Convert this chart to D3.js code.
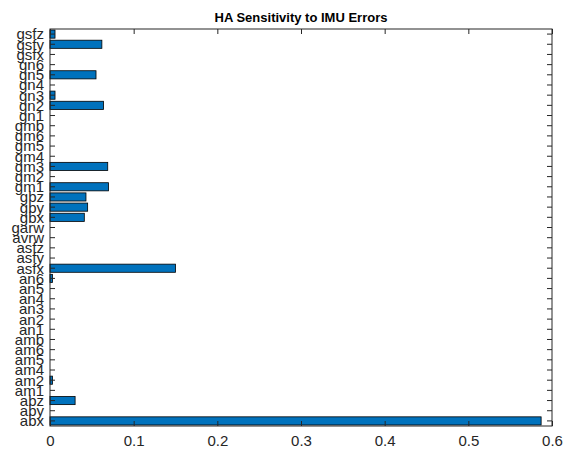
<!DOCTYPE html>
<html><head><meta charset="utf-8">
<script src="https://cdn.jsdelivr.net/npm/d3@7"></script>
<style>body{margin:0;background:#fff;}svg{display:block;font-family:"Liberation Sans",Arial,sans-serif;}</style>
</head><body><svg id="c" width="569" height="451"></svg>
<script>
const categories = ["abx","aby","abz","am1","am2","am4","am5","am6","amb","an1","an2","an3","an4","an5","an6","asfx","asfy","asfz","avrw","garw","gbx","gby","gbz","gm1","gm2","gm3","gm4","gm5","gm6","gmb","gn1","gn2","gn3","gn4","gn5","gn6","gsfx","gsfy","gsfz"];
const values = [0.587,0,0.030,0,0.003,0,0,0,0,0,0,0,0,0,0.003,0.150,0,0,0,0,0.041,0.045,0.043,0.070,0,0.069,0,0,0,0,0,0.064,0.006,0,0.055,0,0,0.062,0.006];
const xTicks = [0,0.1,0.2,0.3,0.4,0.5,0.6];
const title = "HA Sensitivity to IMU Errors";

const svg = d3.select("#c");
const L=50,R=552,T=29,B=426;
const x = d3.scaleLinear().domain([0,0.6]).range([L,R]);
const y = d3.scaleBand().domain(categories).range([B,T]).paddingInner(0.2).paddingOuter(0.1);
const axCol="#262626";

svg.append("g").selectAll("rect").data(categories).join("rect")
  .attr("x",x(0)).attr("y",d=>y(d))
  .attr("width",(d,i)=>x(values[i])-x(0)).attr("height",y.bandwidth())
  .attr("fill","#0072BD").attr("stroke","#000").attr("stroke-width",0.8)
  .attr("display",(d,i)=>values[i]>0?null:"none");

const tl=5;
function styleAxis(g){g.select(".domain").remove();g.selectAll("line").attr("stroke",axCol);g.selectAll("text").attr("fill",axCol).attr("font-size",15);}
svg.append("g").attr("transform",`translate(0,${B})`).call(d3.axisBottom(x).tickValues(xTicks).tickFormat(d3.format("~g")).tickSizeInner(-tl).tickSizeOuter(0).tickPadding(9)).call(styleAxis);
svg.append("g").attr("transform",`translate(0,${T})`).call(d3.axisTop(x).tickValues(xTicks).tickFormat("").tickSizeInner(-tl).tickSizeOuter(0)).call(styleAxis);
svg.append("g").attr("transform",`translate(${L},0)`).call(d3.axisLeft(y).tickSizeInner(-tl).tickSizeOuter(0).tickPadding(6)).call(styleAxis)
  .selectAll("text").attr("dy","0.36em");
svg.append("g").attr("transform",`translate(${R},0)`).call(d3.axisRight(y).tickFormat("").tickSizeInner(-tl).tickSizeOuter(0)).call(styleAxis);

svg.append("rect").attr("x",L).attr("y",T).attr("width",R-L).attr("height",B-T).attr("fill","none").attr("stroke",axCol).attr("stroke-width",1);
svg.append("text").attr("x",(L+R)/2).attr("y",22).attr("text-anchor","middle").attr("font-weight","bold").attr("font-size",13).attr("fill","#000").text(title);
</script></body></html>
